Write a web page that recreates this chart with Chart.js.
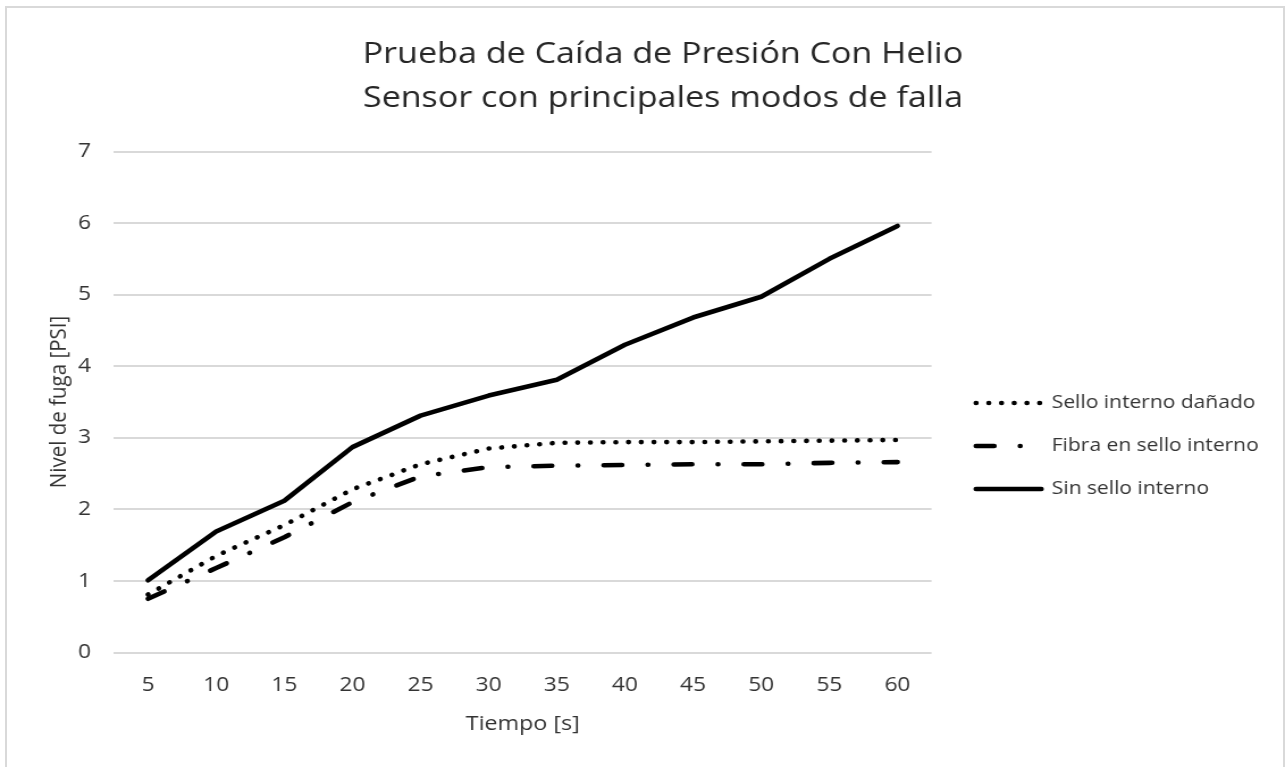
<!DOCTYPE html>
<html>
<head>
<meta charset="utf-8">
<script src="https://cdn.jsdelivr.net/npm/chart.js@4.4.1/dist/chart.umd.min.js"></script>
<style>
  html, body { margin: 0; padding: 0; background: #ffffff; overflow: hidden; }
  #wrap { position: relative; width: 1285px; height: 767px; overflow: hidden; }
  #frame { position: absolute; left: 5px; top: 6px; width: 1280px; height: 790px;
           border: 2px solid #d9d9d9; box-sizing: border-box; }
  /* the chart is drawn on a narrower canvas and widened to the page */
  #c { position: absolute; left: 0; top: 0; transform: scaleX(1.13516); transform-origin: 0 0; }
</style>
</head>
<body>
<div id="wrap">
  <div id="frame"></div>
  <canvas id="c" width="1132" height="767"></canvas>
</div>
<script>
// Tiempo [s]
const tiempos = ['5', '10', '15', '20', '25', '30', '35', '40', '45', '50', '55', '60'];

// Nivel de fuga [PSI] por modo de falla
const selloInternoDanado = [0.81, 1.35, 1.78, 2.28, 2.63, 2.85, 2.93, 2.94, 2.94, 2.95, 2.96, 2.97];
const fibraEnSelloInterno = [0.75, 1.18, 1.61, 2.10, 2.46, 2.59, 2.61, 2.62, 2.63, 2.63, 2.65, 2.66];
const sinSelloInterno = [1.01, 1.69, 2.12, 2.87, 3.31, 3.59, 3.81, 4.30, 4.68, 4.97, 5.50, 5.96];

const nombresSeries = ['Sello interno dañado', 'Fibra en sello interno', 'Sin sello interno'];
const tituloLineas = ['Prueba de Caída de Presión Con Helio', 'Sensor con principales modos de falla'];

const GRIS_TITULO = '#262626';
const GRIS_TEXTO = '#333333';
const GRIS_REJILLA = '#d9d9d9';
const FUENTE = "'Open Sans', 'Noto Sans', sans-serif";

// trazos: punteado redondo, raya-punto y continuo
const TRAZO_PUNTOS = [0.1, 11.1];
const TRAZO_RAYA_PUNTO = [16, 22.85, 0.1, 22.75];
const TRAZO_CONTINUO = [];

function serie(label, data, dash) {
  return {
    label: label,
    data: data,
    borderColor: '#000000',
    backgroundColor: '#000000',
    borderWidth: 4.6,
    borderDash: dash,
    borderCapStyle: 'round',
    borderJoinStyle: 'round',
    pointRadius: 0,
    pointHoverRadius: 0,
    tension: 0,
    fill: false
  };
}

function dibujar() {
  Chart.defaults.font.family = FUENTE;
  Chart.defaults.color = GRIS_TEXTO;

  new Chart(document.getElementById('c'), {
    type: 'line',
    data: {
      labels: tiempos,
      datasets: [
        serie(nombresSeries[0], selloInternoDanado, TRAZO_PUNTOS),
        serie(nombresSeries[1], fibraEnSelloInterno, TRAZO_RAYA_PUNTO),
        serie(nombresSeries[2], sinSelloInterno, TRAZO_CONTINUO)
      ]
    },
    options: {
      responsive: false,
      devicePixelRatio: 1,
      animation: false,
      events: [],
      layout: { padding: { left: 49.2, right: 13.2, top: 0, bottom: 0 } },
      plugins: {
        tooltip: { enabled: false },
        title: {
          display: true,
          text: tituloLineas,
          color: GRIS_TITULO,
          font: { size: 30, weight: 'normal', lineHeight: 44 / 30 },
          padding: { top: 32.7, bottom: 30.8 }
        },
        legend: {
          position: 'right',
          fullSize: false,
          align: 'center',
          maxWidth: 284,
          title: { display: true, text: '', font: { size: 10, lineHeight: 1 }, padding: { top: 0, bottom: 78 } },
          labels: {
            usePointStyle: true,
            pointStyleWidth: 57.5,
            padding: 24.5,
            color: GRIS_TEXTO,
            font: { size: 18.5 },
            generateLabels: chart => chart.data.datasets.map((ds, i) => ({
              text: ds.label,
              fillStyle: ds.borderColor,
              strokeStyle: ds.borderColor,
              fontColor: GRIS_TEXTO,
              lineWidth: ds.borderWidth,
              lineDash: ds.borderDash,
              lineCap: ds.borderCapStyle,
              lineJoin: 'round',
              pointStyle: 'line',
              rotation: 180,
              hidden: false,
              datasetIndex: i
            }))
          }
        }
      },
      scales: {
        x: {
          offset: true,
          grid: { display: false, drawTicks: false, offset: true },
          border: { display: false },
          ticks: { color: GRIS_TEXTO, font: { size: 20 }, padding: 21, maxRotation: 0 },
          title: { display: true, text: 'Tiempo [s]', color: GRIS_TEXTO, font: { size: 20.5 }, padding: { top: 0, bottom: 31 } },
          afterFit: s => { s.height = 114.5; }
        },
        y: {
          min: 0,
          max: 7,
          ticks: { stepSize: 1, color: GRIS_TEXTO, font: { size: 20 }, padding: 20.2 },
          grid: { color: GRIS_REJILLA, lineWidth: 2, drawTicks: false },
          border: { display: false },
          title: { display: true, text: 'Nivel de fuga [PSI]', color: GRIS_TEXTO, font: { size: 20.5 }, padding: { top: -9.5, bottom: 0 } },
          afterFit: s => { s.width = 51.2; }
        },
        separacion: {
          type: 'linear',
          position: 'right',
          grid: { display: false, drawTicks: false },
          ticks: { display: false },
          border: { display: false },
          afterFit: s => { s.width = 14.7; }
        }
      }
    }
  });
}

const cargas = ['18.5px "Open Sans"', '20px "Open Sans"', '30px "Open Sans"'].map(f => document.fonts.load(f).catch(() => null));
Promise.all(cargas).then(dibujar, dibujar);
</script>
</body>
</html>
